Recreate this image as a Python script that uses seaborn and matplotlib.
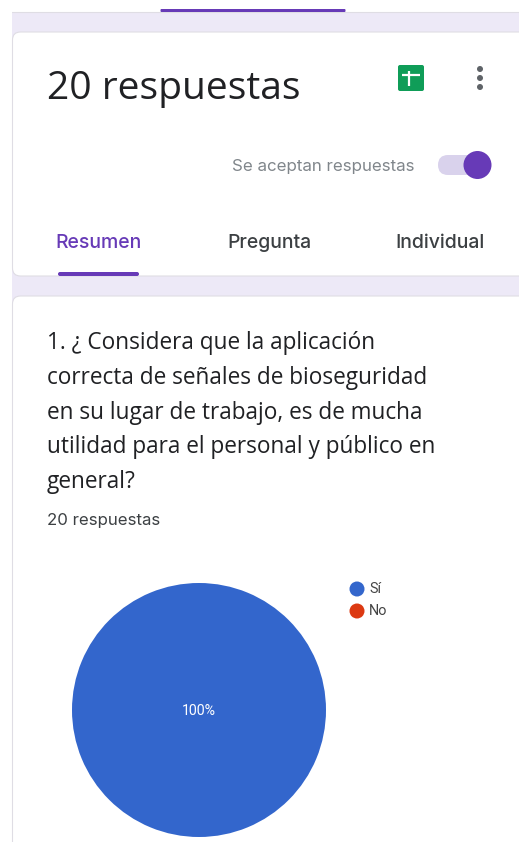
import matplotlib
matplotlib.use("Agg")
import matplotlib.pyplot as plt
from matplotlib.patches import FancyBboxPatch, Rectangle, Circle
import seaborn as sns

categories = ["Sí", "No"]
values = [100, 0]
colors = ["#3366cc", "#dc3912"]
question = ["1. ¿ Considera que la aplicación",
            "correcta de señales de bioseguridad",
            "en su lugar de trabajo, es de mucha",
            "utilidad para el personal y público en",
            "general?"]
tabs = ["Resumen", "Pregunta", "Individual"]

sns.set_theme(style="white")
plt.rcParams['font.family'] = ['Roboto', 'DejaVu Sans']
W, H = 519, 842
fig = plt.figure(figsize=(W/100, H/100), dpi=100, facecolor="white")
bg = fig.add_axes([0, 0, 1, 1])
bg.set_xlim(0, W); bg.set_ylim(H, 0); bg.axis("off")

PURPLE = "#673ab7"
LAV = "#ede9f7"
BORD = "#dfdde4"
OPEN = ["Open Sans", "DejaVu Sans"]
INTER = ["Inter", "DejaVu Sans"]
# page background
bg.add_patch(Rectangle((12, 12), W, H, fc=LAV, ec="none", zorder=0))
bg.plot([12, W], [12, 12], color=BORD, lw=0.8, zorder=1)
bg.add_patch(FancyBboxPatch((160.5, 9), 185, 3, boxstyle="round,pad=0,rounding_size=1", fc=PURPLE, ec="none", zorder=2))

# cards
bg.add_patch(FancyBboxPatch((12.5, 32), W, 244, boxstyle="round,pad=0,rounding_size=8", fc="white", ec=BORD, lw=0.8, zorder=1))
bg.add_patch(FancyBboxPatch((12.5, 296), W, H, boxstyle="round,pad=0,rounding_size=8", fc="white", ec=BORD, lw=0.8, zorder=1))

# header
bg.text(47, 89, "20 respuestas", fontsize=28.1, color="#202124", va="center", ha="left", family=OPEN, zorder=3)
bg.add_patch(FancyBboxPatch((398, 65), 26, 26, boxstyle="round,pad=0,rounding_size=2", fc="#0f9d58", ec="none", zorder=3))
bg.plot([402, 420], [75, 75], color="white", lw=1.6, zorder=4, solid_capstyle="butt")
bg.plot([408.5, 408.5], [71, 86], color="white", lw=1.6, zorder=4, solid_capstyle="butt")
for y in (69, 78, 87):
    bg.add_patch(Circle((480, y), 3, fc="#5f6368", ec="none", zorder=3))

bg.text(232, 166, "Se aceptan respuestas", fontsize=12.2, color="#80868b", va="center", ha="left", family=INTER, zorder=3)
bg.add_patch(FancyBboxPatch((438, 155), 50, 20, boxstyle="round,pad=0,rounding_size=10", fc="#d9d2ec", ec="none", zorder=3))
bg.add_patch(Circle((477.5, 165), 14, fc=PURPLE, ec="none", zorder=4))

for t, x, c in zip(tabs, (98.5, 269, 440), (PURPLE, "#3c4043", "#3c4043")):
    bg.text(x, 243, t, fontsize=14, color=c, va="center", ha="center", fontweight="medium", family=INTER, zorder=3)
bg.add_patch(FancyBboxPatch((58, 272), 81, 4, boxstyle="round,pad=0,rounding_size=2", fc=PURPLE, ec="none", zorder=3))

# question
for line, y in zip(question, (343, 378, 413, 447, 482)):
    bg.text(47, y, line, fontsize=16.3, color="#202124", va="center", ha="left", family=OPEN, zorder=3)
bg.text(47, 521, "20 respuestas", fontsize=12.1, color="#3c4043", va="center", ha="left", family=INTER, zorder=3)

# pie
R, cx, cy = 127, 199, 710
ax = fig.add_axes([(cx-R)/W, 1-(cy+R)/H, 2*R/W, 2*R/H])
ax.pie(values, colors=colors, startangle=90, counterclock=False, radius=1, wedgeprops=dict(linewidth=0))
ax.set_xlim(-1, 1); ax.set_ylim(-1, 1); ax.set_zorder(2); ax.patch.set_alpha(0)
ax.text(0, -0.008, "100%", color="white", fontsize=10.2, ha="center", va="center", transform=ax.transData)

# legend
for c, t, y in zip(colors, categories, (589, 611)):
    bg.add_patch(Circle((357, y), 7.5, fc=c, ec="none", zorder=3))
    bg.text(369, y, t, fontsize=10.4, color="#444444", va="center", ha="left", zorder=3)

fig.savefig("out.png", dpi=100, facecolor="white")
